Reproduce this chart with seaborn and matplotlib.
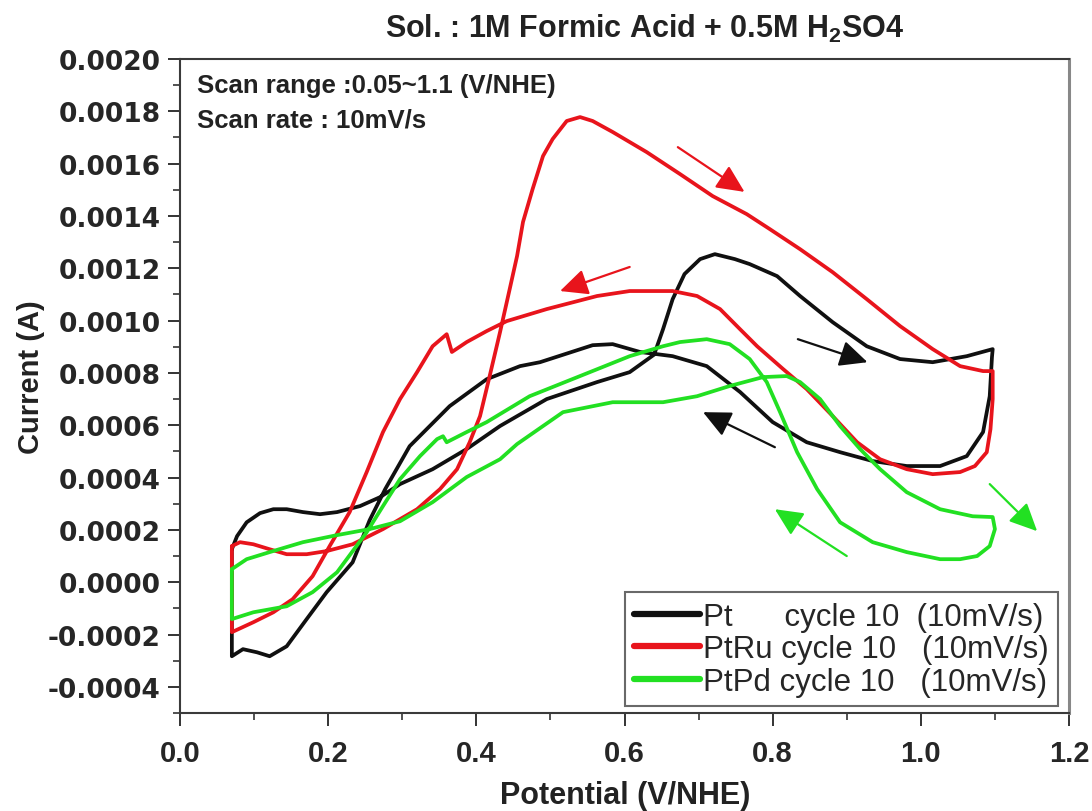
import numpy as np
import pandas as pd
import matplotlib
matplotlib.use("Agg")
import matplotlib.pyplot as plt
from matplotlib.ticker import MultipleLocator, FuncFormatter
import seaborn as sns

# ---- cyclic voltammograms (potential in V/NHE, current in A), one closed loop each ----
pt_v = [0.070, 0.077, 0.090, 0.108, 0.126, 0.144, 0.166, 0.189, 0.212, 0.243, 0.270, 0.297,
        0.341, 0.387, 0.432, 0.495, 0.563, 0.607, 0.640, 0.652, 0.665, 0.681, 0.702, 0.722,
        0.749, 0.769, 0.806, 0.837, 0.881, 0.927, 0.972, 1.016, 1.062, 1.097,
        1.096, 1.093, 1.084, 1.062, 1.026, 0.981, 0.935, 0.891, 0.846, 0.800, 0.756, 0.711,
        0.665, 0.621, 0.584, 0.557, 0.486, 0.459, 0.414, 0.364, 0.310, 0.277, 0.256, 0.233,
        0.198, 0.171, 0.144, 0.121, 0.104, 0.085, 0.070, 0.070]
pt_i = [0.000126, 0.000176, 0.000229, 0.000264, 0.000279, 0.000279, 0.000268, 0.000260,
        0.000268, 0.000291, 0.000325, 0.000375, 0.000432, 0.000509, 0.000597, 0.000700,
        0.000765, 0.000803, 0.000870, 0.000967, 0.001082, 0.001178, 0.001235, 0.001254,
        0.001235, 0.001216, 0.001170, 0.001094, 0.000994, 0.000902, 0.000853, 0.000841,
        0.000864, 0.000891,
        0.000860, 0.000711, 0.000574, 0.000482, 0.000444, 0.000444, 0.000463, 0.000497,
        0.000535, 0.000612, 0.000727, 0.000826, 0.000864, 0.000880, 0.000910, 0.000906,
        0.000841, 0.000826, 0.000776, 0.000673, 0.000520, 0.000356, 0.000237, 0.000076,
        -0.000038, -0.000141, -0.000245, -0.000283, -0.000268, -0.000256, -0.000283,
        -0.000218]

ptru_v = [0.070, 0.081, 0.099, 0.121, 0.144, 0.171, 0.198, 0.233, 0.274, 0.320, 0.351, 0.374,
          0.391, 0.405, 0.418, 0.432, 0.445, 0.455, 0.463, 0.476, 0.490, 0.503, 0.522, 0.540,
          0.557, 0.584, 0.630, 0.675, 0.719, 0.765, 0.796, 0.837, 0.881, 0.927, 0.972, 1.016,
          1.053, 1.084, 1.097,
          1.097, 1.094, 1.089, 1.073, 1.053, 1.016, 0.981, 0.945, 0.914, 0.881, 0.846, 0.814,
          0.779, 0.756, 0.729, 0.698, 0.665, 0.607, 0.563, 0.495, 0.441, 0.414, 0.387, 0.367,
          0.360, 0.341, 0.320, 0.297, 0.274, 0.252, 0.229, 0.202, 0.179, 0.152, 0.126, 0.099,
          0.070]
ptru_i = [0.000138, 0.000153, 0.000145, 0.000126, 0.000107, 0.000107, 0.000119, 0.000145,
          0.000203, 0.000279, 0.000356, 0.000432, 0.000535, 0.000635, 0.000788, 0.000956,
          0.001120, 0.001247, 0.001377, 0.001503, 0.001629, 0.001694, 0.001763, 0.001778,
          0.001763, 0.001721, 0.001644, 0.001560, 0.001476, 0.001407, 0.001350, 0.001273,
          0.001185, 0.001082, 0.000979, 0.000891, 0.000826, 0.000807, 0.000807,
          0.000700, 0.000585, 0.000497, 0.000444, 0.000421, 0.000413, 0.000432, 0.000470,
          0.000535, 0.000635, 0.000738, 0.000815, 0.000902, 0.000967, 0.001044, 0.001094,
          0.001113, 0.001113, 0.001094, 0.001044, 0.000998, 0.000960, 0.000918, 0.000880,
          0.000948, 0.000902, 0.000803, 0.000700, 0.000574, 0.000421, 0.000268, 0.000138,
          0.000023, -0.000065, -0.000115, -0.000153, -0.000191]

ptpd_v = [0.070, 0.090, 0.121, 0.166, 0.212, 0.256, 0.297, 0.341, 0.387, 0.432, 0.455, 0.517,
          0.584, 0.652, 0.698, 0.742, 0.787, 0.819, 0.837, 0.864, 0.891, 0.918, 0.945, 0.981,
          1.026, 1.070, 1.097,
          1.100, 1.093, 1.076, 1.053, 1.026, 0.981, 0.935, 0.891, 0.860, 0.833, 0.810, 0.792,
          0.769, 0.742, 0.711, 0.675, 0.652, 0.607, 0.540, 0.472, 0.414, 0.387, 0.360, 0.355,
          0.347, 0.324, 0.297, 0.274, 0.252, 0.229, 0.212, 0.179, 0.144, 0.099, 0.070]
ptpd_i = [0.000050, 0.000088, 0.000115, 0.000153, 0.000180, 0.000203, 0.000233, 0.000306,
          0.000402, 0.000470, 0.000528, 0.000650, 0.000688, 0.000688, 0.000711, 0.000750,
          0.000784, 0.000788, 0.000765, 0.000700, 0.000597, 0.000509, 0.000432, 0.000344,
          0.000279, 0.000252, 0.000249,
          0.000203, 0.000138, 0.000100, 0.000088, 0.000088, 0.000115, 0.000153, 0.000229,
          0.000356, 0.000497, 0.000650, 0.000765, 0.000853, 0.000910, 0.000929, 0.000918,
          0.000902, 0.000864, 0.000788, 0.000711, 0.000612, 0.000574, 0.000535, 0.000558,
          0.000547, 0.000482, 0.000394, 0.000291, 0.000191, 0.000103, 0.000038, -0.000038,
          -0.000092, -0.000115, -0.000141]

catalysts = ["Pt", "PtRu", "PtPd"]
legend_labels = ["Pt      cycle 10  (10mV/s)",
                 "PtRu cycle 10   (10mV/s)",
                 "PtPd cycle 10   (10mV/s)"]
colors = ["#101010", "#e8141c", "#22e022"]

# scan-direction arrows: (tail potential, tail current) -> (head potential, head current)
arrow_tail_v = [0.672, 0.607, 0.834, 0.803, 1.093, 0.900]
arrow_tail_i = [0.001663, 0.001205, 0.000929, 0.000516, 0.000375, 0.000100]
arrow_head_v = [0.762, 0.513, 0.928, 0.706, 1.157, 0.803]
arrow_head_i = [0.001492, 0.001113, 0.000841, 0.000650, 0.000195, 0.000279]
arrow_color = ["#e8141c", "#e8141c", "#101010", "#101010", "#22e022", "#22e022"]

title_text = "Sol. : 1M Formic Acid + 0.5M H$_{\\mathbf{2}}$SO4"
note_lines = ["Scan range :0.05~1.1 (V/NHE)", "Scan rate : 10mV/s"]

# ---- assemble long-form table, closing each loop on its first point ----
frames = []
for name, v, i in zip(catalysts, [pt_v, ptru_v, ptpd_v], [pt_i, ptru_i, ptpd_i]):
    v = list(v) + [v[0]]
    i = list(i) + [i[0]]
    frames.append(pd.DataFrame({"potential": v, "current": i, "catalyst": name,
                                "step": np.arange(len(v))}))
df = pd.concat(frames, ignore_index=True)

sns.set_style("ticks")
plt.rcParams["mathtext.fontset"] = "custom"
plt.rcParams["mathtext.rm"] = "Liberation Sans"
plt.rcParams["mathtext.bf"] = "Liberation Sans:bold"
plt.rcParams["font.family"] = ["Liberation Sans", "DejaVu Sans"]

fig = plt.figure(figsize=(10.92, 8.12), dpi=100)
ax = fig.add_axes([180 / 1092, 98 / 812, 889 / 1092, 654 / 812])

sns.lineplot(data=df, x="potential", y="current", hue="catalyst", hue_order=catalysts,
             palette=colors, sort=False, estimator=None, units="catalyst",
             linewidth=2.7, legend=False, ax=ax)

for tv, ti, hv, hi, c in zip(arrow_tail_v, arrow_tail_i, arrow_head_v, arrow_head_i, arrow_color):
    ax.annotate("", xy=(hv, hi), xytext=(tv, ti),
                arrowprops=dict(arrowstyle="-|>,head_length=0.85,head_width=0.4",
                                color=c, lw=1.6, mutation_scale=20,
                                shrinkA=0, shrinkB=0))

ax.set_xlim(0.0, 1.2)
ax.set_ylim(-0.0005, 0.0020)
ax.xaxis.set_major_locator(MultipleLocator(0.2))
ax.xaxis.set_minor_locator(MultipleLocator(0.1))
ax.yaxis.set_major_locator(MultipleLocator(0.0002))
ax.yaxis.set_minor_locator(MultipleLocator(0.0001))
ax.xaxis.set_major_formatter(FuncFormatter(lambda x, _: f"{round(x, 3):.1f}"))
ax.yaxis.set_major_formatter(FuncFormatter(lambda y, _: f"{round(y, 6) + 0.0:.4f}"))
ax.tick_params(axis="both", which="major", direction="out", length=9, width=1.4, color="#333333")
ax.tick_params(axis="both", which="minor", direction="out", length=5, width=1.2, color="#333333")
ax.tick_params(axis="y", which="major", pad=5)
ax.tick_params(axis="x", which="major", pad=10)
for lab in ax.get_yticklabels():
    lab.set_fontfamily("DejaVu Sans")
    lab.set_fontweight("bold")
    lab.set_fontsize(19)
for lab in ax.get_xticklabels():
    lab.set_fontfamily("Liberation Sans")
    lab.set_fontweight("bold")
    lab.set_fontsize(21)
for side in ["left", "bottom", "top", "right"]:
    ax.spines[side].set_visible(True)
    ax.spines[side].set_color("#3a3a3a")
    ax.spines[side].set_linewidth(1.5)
ax.spines["right"].set_color("#888888")
ax.spines["right"].set_linewidth(2.2)

ax.set_xlabel("Potential (V/NHE)", fontsize=22, fontweight="bold", color="#222222")
ax.set_ylabel("Current (A)", fontsize=21, fontweight="bold", color="#222222")
ax.xaxis.set_label_coords(0.5006, -0.103)
ax.yaxis.set_label_coords(-0.152, 0.515)

fig.text(645 / 1092, 1 - 29 / 812, title_text, ha="center", va="center",
         fontsize=22, fontweight="bold", color="#222222")
ax.text(0.019, 0.960, note_lines[0], transform=ax.transAxes, ha="left", va="center",
        fontsize=18.5, fontweight="bold", color="#222222")
ax.text(0.019, 0.907, note_lines[1], transform=ax.transAxes, ha="left", va="center",
        fontsize=18.5, fontweight="bold", color="#222222")

handles = ax.get_lines()[:3]
leg = ax.legend(handles, legend_labels, loc="lower right", bbox_to_anchor=(0.988, 0.0107),
                borderaxespad=0, frameon=True, fancybox=False,
                handlelength=2.1, handletextpad=0.1, borderpad=0.3, labelspacing=0.08,
                prop={"family": "Liberation Sans", "size": 22.5})
leg.get_frame().set_edgecolor("#444444")
leg.get_frame().set_linewidth(1.5)
for line in leg.get_lines():
    line.set_linewidth(4.5)

fig.savefig("out.png", dpi=100)
